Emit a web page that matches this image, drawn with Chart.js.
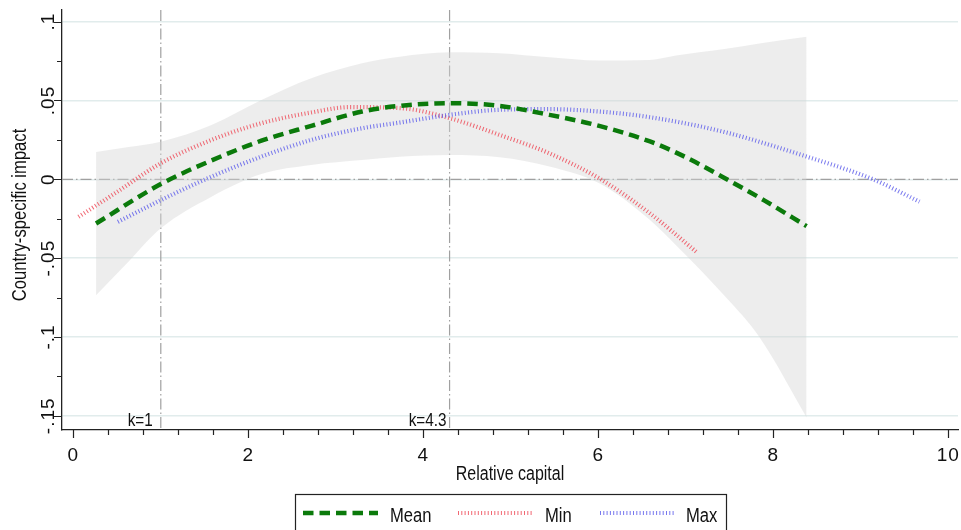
<!DOCTYPE html>
<html>
<head>
<meta charset="utf-8">
<title>Country-specific impact</title>
<script src="https://cdn.jsdelivr.net/npm/chart.js@4.4.1/dist/chart.umd.min.js"></script>
<style>
  html, body { margin: 0; padding: 0; background: #fff; }
  #wrap { position: relative; width: 961px; height: 530px; }
</style>
</head>
<body>
<div id="wrap"><canvas id="chart"></canvas></div>
<script>
(function () {
  'use strict';

  // confidence band (upper / lower)
  var bandX     = [0.26, 0.63, 1.0, 1.58, 2.15, 2.72, 3.3, 3.73, 4.3, 4.87, 5.44, 6.01, 6.59, 6.89, 7.46, 7.84, 8.38];
  var bandUpper = [0.0174, 0.0205, 0.0239, 0.0345, 0.0503, 0.0641, 0.0736, 0.0778, 0.0806, 0.0800, 0.0774, 0.0753, 0.0757, 0.0785, 0.0828, 0.0862, 0.0905];
  var bandLower = [-0.0736, -0.0523, -0.0311, -0.0110, 0.0034, 0.0091, 0.0122, 0.0143, 0.0154, 0.0140, 0.0082, -0.0025, -0.0258, -0.0420, -0.0750, -0.1000, -0.1510];

  var meanX = [0.26, 1.0, 1.58, 2.15, 2.72, 3.3, 3.73, 4.3, 4.87, 5.44, 6.01, 6.59, 7.0, 7.42, 7.9, 8.38];
  var meanY = [-0.028, -0.003, 0.012, 0.0245, 0.0339, 0.0430, 0.0466, 0.0483, 0.0466, 0.0409, 0.0339, 0.0240, 0.0140, 0.0015, -0.0135, -0.0297];

  var minX = [0.06, 0.5, 1.0, 1.58, 2.15, 2.72, 3.16, 3.73, 4.3, 4.87, 5.44, 6.01, 6.59, 7.12];
  var minY = [-0.0238, -0.008, 0.0102, 0.0250, 0.0356, 0.0424, 0.0458, 0.0452, 0.0388, 0.0282, 0.0165, 0.0006, -0.0216, -0.0460];

  var maxX = [0.51, 1.0, 1.58, 2.15, 2.72, 3.3, 3.73, 4.3, 4.87, 5.44, 6.01, 6.59, 7.42, 8.38, 9.14, 9.67];
  var maxY = [-0.027, -0.0132, 0.0017, 0.0144, 0.0250, 0.0324, 0.0360, 0.0409, 0.0441, 0.0445, 0.0430, 0.0394, 0.0303, 0.0144, 0.0, -0.0142];

  var xMajorTicks  = [0, 2, 4, 6, 8, 10];
  var yMajorTicks  = [-0.15, -0.1, -0.05, 0, 0.05, 0.1];
  var yTickLabels  = ['-.15', '-.1', '-.05', '0', '.05', '.1'];
  var xMinorStep   = 0.4;
  var yMinorStep   = 0.025;

  var kLines  = [1, 4.3];
  var kLabels = ['k=1', 'k=4.3'];

  var legendLabels = ['Mean', 'Min', 'Max'];

  var FONT = '"Liberation Sans", Arial, sans-serif';

  var GREEN = '#0b7a0b';
  var RED   = 'rgba(238,78,90,0.85)';
  var BLUE  = 'rgba(96,96,235,0.85)';

  var STYLES = [
    { color: GREEN, width: 4.5, dash: [10.5, 6] },
    { color: RED,   width: 4.2, dash: [1, 2.3] },
    { color: BLUE,  width: 4.2, dash: [1, 2.3] }
  ];

  function pts(xs, ys) {
    return xs.map(function (x, i) { return { x: x, y: ys[i] }; });
  }

  function txt(ctx, s, x, y, size, align, rot, squeeze, spacing) {
    ctx.save();
    ctx.translate(x, y);
    if (rot) ctx.rotate(rot);
    ctx.scale(squeeze || 1, 1);
    ctx.font = size + 'px ' + FONT;
    ctx.letterSpacing = spacing || '0px';
    ctx.textAlign = align;
    ctx.textBaseline = 'alphabetic';
    ctx.fillStyle = '#111';
    ctx.fillText(s, 0, 0);
    ctx.restore();
  }

  function range(from, to, step) {
    var out = [];
    var n = Math.round((to - from) / step);
    for (var i = 0; i <= n; i++) out.push(+(from + i * step).toFixed(4));
    return out;
  }

  // dash-dot reference lines, under the band
  var refLines = {
    id: 'refLines',
    beforeDatasetsDraw: function (chart) {
      var ctx = chart.ctx, a = chart.chartArea;
      var xs = chart.scales.x, ys = chart.scales.y;
      ctx.save();
      ctx.lineWidth = 1.2;
      ctx.strokeStyle = '#a0a0a0';
      ctx.setLineDash([11, 3, 1.5, 3]);
      var y0 = ys.getPixelForValue(0);
      ctx.beginPath(); ctx.moveTo(a.left, y0); ctx.lineTo(a.right, y0); ctx.stroke();
      kLines.forEach(function (k) {
        var px = xs.getPixelForValue(k);
        ctx.beginPath(); ctx.moveTo(px, a.top); ctx.lineTo(px, a.bottom); ctx.stroke();
      });
      ctx.restore();
    }
  };

  // ticks, labels, titles and the legend box
  var decorations = {
    id: 'decorations',
    afterDraw: function (chart) {
      var ctx = chart.ctx, a = chart.chartArea;
      var xs = chart.scales.x, ys = chart.scales.y;

      ctx.save();
      ctx.strokeStyle = '#222';
      ctx.lineWidth = 1.2;
      ctx.beginPath();
      range(0, 10, xMinorStep).forEach(function (v) {
        var px = Math.round(xs.getPixelForValue(v)) + 0.5;
        var len = xMajorTicks.indexOf(v) >= 0 ? 8 : 5;
        ctx.moveTo(px, a.bottom); ctx.lineTo(px, a.bottom + len);
      });
      range(-0.15, 0.1, yMinorStep).forEach(function (v) {
        var py = Math.round(ys.getPixelForValue(v)) + 0.5;
        var major = yMajorTicks.some(function (m) { return Math.abs(m - v) < 1e-6; });
        ctx.moveTo(a.left, py); ctx.lineTo(a.left - (major ? 8 : 5), py);
      });
      ctx.stroke();
      ctx.restore();

      xMajorTicks.forEach(function (v) {
        txt(ctx, String(v), xs.getPixelForValue(v), a.bottom + 31, 19, 'center', 0, 1, '1px');
      });
      yMajorTicks.forEach(function (v, i) {
        txt(ctx, yTickLabels[i], a.left - 8, ys.getPixelForValue(v), 19, 'center', -Math.PI / 2, 1, '1px');
      });

      txt(ctx, 'Relative capital', (a.left + a.right) / 2, 480, 20, 'center', 0, 0.8);
      txt(ctx, 'Country-specific impact', 26, 215, 20, 'center', -Math.PI / 2, 0.83);

      var kOff = [8, 3];
      kLines.forEach(function (k, i) {
        txt(ctx, kLabels[i], xs.getPixelForValue(k) - kOff[i], a.bottom - 4, 18, 'right', 0, 0.85);
      });

      // legend
      ctx.save();
      ctx.strokeStyle = '#222';
      ctx.lineWidth = 1.2;
      ctx.strokeRect(295.5, 494.5, 431, 40);
      var sx = [303, 458, 600], tx = [390, 545, 686];
      legendLabels.forEach(function (lab, i) {
        var st = STYLES[i];
        ctx.save();
        ctx.strokeStyle = st.color;
        ctx.lineWidth = st.width;
        ctx.setLineDash(st.dash);
        ctx.beginPath(); ctx.moveTo(sx[i], 513); ctx.lineTo(sx[i] + 75, 513); ctx.stroke();
        ctx.restore();
        txt(ctx, lab, tx[i], 522, 20, 'left', 0, 0.83);
      });
      ctx.restore();
    }
  };

  function curve(label, xs, ys, st, order) {
    return {
      label: label,
      data: pts(xs, ys),
      borderColor: st.color,
      borderWidth: st.width,
      borderDash: st.dash,
      borderCapStyle: 'butt',
      pointRadius: 0,
      cubicInterpolationMode: 'monotone',
      fill: false,
      order: order
    };
  }

  new Chart(document.getElementById('chart'), {
    type: 'line',
    data: {
      datasets: [
        {
          label: 'upper',
          data: pts(bandX, bandUpper),
          borderWidth: 0,
          borderColor: 'rgba(0,0,0,0)',
          backgroundColor: 'rgba(212,212,212,0.42)',
          pointRadius: 0,
          cubicInterpolationMode: 'monotone',
          fill: '+1',
          order: 10
        },
        {
          label: 'lower',
          data: pts(bandX, bandLower),
          borderWidth: 0,
          borderColor: 'rgba(0,0,0,0)',
          pointRadius: 0,
          cubicInterpolationMode: 'monotone',
          fill: false,
          order: 11
        },
        curve('Mean', meanX, meanY, STYLES[0], 1),
        curve('Min',  minX,  minY,  STYLES[1], 3),
        curve('Max',  maxX,  maxY,  STYLES[2], 2)
      ]
    },
    options: {
      responsive: true,
      maintainAspectRatio: false,
      animation: false,
      layout: { padding: { left: 62, right: 3, top: 10, bottom: 100 } },
      plugins: { legend: { display: false }, tooltip: { enabled: false } },
      scales: {
        x: {
          type: 'linear',
          min: -0.129,
          max: 10.11,
          grid: { display: false, drawTicks: false },
          border: { display: true, color: '#222', width: 1.3 },
          ticks: { display: false }
        },
        y: {
          type: 'linear',
          min: -0.159,
          max: 0.1074,
          afterBuildTicks: function (scale) {
            scale.ticks = yMajorTicks.map(function (v) { return { value: v }; });
          },
          grid: { color: '#e1ecec', lineWidth: 1.5, drawTicks: false },
          border: { display: true, color: '#222', width: 1.3 },
          ticks: { display: false }
        }
      }
    },
    plugins: [refLines, decorations]
  });
})();
</script>
</body>
</html>
